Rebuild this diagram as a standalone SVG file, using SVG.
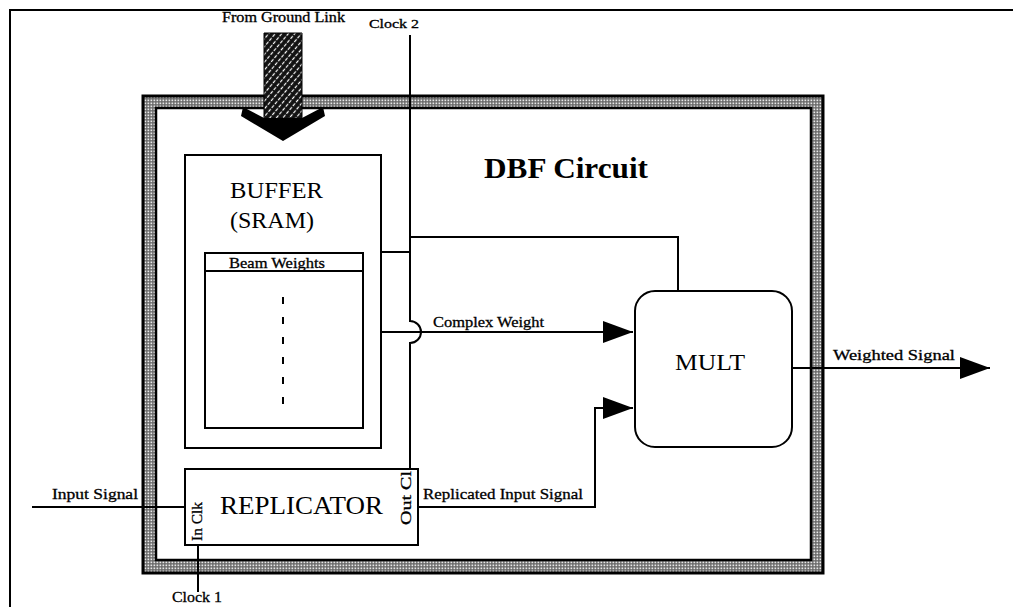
<svg xmlns="http://www.w3.org/2000/svg" width="1013" height="611" viewBox="0 0 1013 611">
<style>
.ln{stroke:#000;stroke-width:2;fill:none}
.box{fill:#fff;stroke:#000;stroke-width:2}
.t{font-family:"Liberation Serif","Times New Roman",serif;fill:#000}
.s{font-size:15px;stroke:#000;stroke-width:0.3}
</style>
<defs>
<pattern id="halftone" width="3" height="3" patternUnits="userSpaceOnUse">
<rect width="3" height="3" fill="#666"/>
<rect x="0.5" y="0.5" width="1.7" height="1.7" fill="#e8e8e8"/>
</pattern>
<pattern id="hatch" width="5" height="5" patternUnits="userSpaceOnUse" patternTransform="rotate(40)">
<rect width="5" height="5" fill="#111"/>
<line x1="2.5" y1="0" x2="2.5" y2="5" stroke="#fff" stroke-width="1.2" stroke-dasharray="3 1.5"/>
</pattern>
<marker id="arr" markerWidth="31" markerHeight="23" refX="30" refY="11.5" orient="auto" markerUnits="userSpaceOnUse">
<path d="M0,0.5 L30,11.5 L0,22.5 Z" fill="#000"/>
</marker>
</defs>
<rect width="1013" height="611" fill="#fff"/>
<g id="page-border"><path class="ln" d="M10,607 V10 H1013" stroke-width="2.5"/></g>
<g id="dbf-circuit">
<rect x="143" y="96" width="680" height="477" fill="url(#halftone)" stroke="#000" stroke-width="3"/>
<rect x="156" y="108" width="655" height="452" fill="#fff" stroke="#000" stroke-width="2.5"/>
<text class="t" x="484" y="178" font-size="30" font-weight="bold" textLength="164" lengthAdjust="spacingAndGlyphs">DBF Circuit</text>
</g>
<g id="buffer">
<rect class="box" x="185" y="155" width="196" height="293"/>
<text class="t" x="230" y="198" font-size="24" textLength="93" lengthAdjust="spacingAndGlyphs">BUFFER</text>
<text class="t" x="230" y="228" font-size="24">(SRAM)</text>
</g>
<g id="beam-weights">
<rect class="box" x="205" y="253" width="158" height="175"/>
<line class="ln" x1="205" y1="271" x2="363" y2="271"/>
<text class="t s" x="229" y="268" font-size="14" textLength="96" lengthAdjust="spacingAndGlyphs">Beam Weights</text>
<line class="ln" x1="283" y1="297" x2="283" y2="410" stroke-dasharray="7 13"/>
</g>
<g id="replicator">
<rect class="box" x="185" y="469" width="233" height="76"/>
<text class="t" x="220" y="514" font-size="26" textLength="163" lengthAdjust="spacingAndGlyphs">REPLICATOR</text>
<text class="t s" font-size="14" transform="translate(202,541) rotate(-90)" textLength="39" lengthAdjust="spacingAndGlyphs">In Clk</text>
<text class="t s" font-size="15" transform="translate(411,525) rotate(-90)" textLength="54" lengthAdjust="spacingAndGlyphs">Out Cl</text>
</g>
<g id="mult">
<rect class="box" x="635" y="291" width="157" height="156" rx="20"/>
<text class="t" x="675" y="370" font-size="24" textLength="70" lengthAdjust="spacingAndGlyphs">MULT</text>
</g>
<g id="ground-link">
<polygon points="264,33 302,33 302,118 283,128 264,118" fill="url(#hatch)" stroke="#000" stroke-width="1"/>
<polygon points="243,107 264,118 302,118 323,107 325,116 283,141 241,116" fill="#000"/>
<text class="t s" x="222" y="22" style="font-size:14px" textLength="123" lengthAdjust="spacingAndGlyphs">From Ground Link</text>
</g>
<g id="connectors">
<path class="ln" d="M410,35 V321 A11,11 0 0 1 410,343 V469"/>
<path class="ln" d="M381,252 H410"/>
<path class="ln" d="M410,237 H678 V291"/>
<path class="ln" d="M381,332 H633" marker-end="url(#arr)"/>
<path class="ln" d="M418,507 H595 V408 H633" marker-end="url(#arr)"/>
<path class="ln" d="M32,507 H185"/>
<path class="ln" d="M198,545 V592"/>
<path class="ln" d="M792,368 H990" marker-end="url(#arr)"/>
</g>
<g id="labels">
<text class="t s" x="369" y="28" style="font-size:13px" textLength="50" lengthAdjust="spacingAndGlyphs">Clock 2</text>
<text class="t s" x="433" y="327" textLength="111" lengthAdjust="spacingAndGlyphs">Complex Weight</text>
<text class="t s" x="833" y="360" textLength="122" lengthAdjust="spacingAndGlyphs">Weighted Signal</text>
<text class="t s" x="52" y="499" textLength="86" lengthAdjust="spacingAndGlyphs">Input Signal</text>
<text class="t s" x="423" y="499" textLength="160" lengthAdjust="spacingAndGlyphs">Replicated Input Signal</text>
<text class="t s" x="172" y="602" textLength="50" lengthAdjust="spacingAndGlyphs">Clock 1</text>
</g>
</svg>
